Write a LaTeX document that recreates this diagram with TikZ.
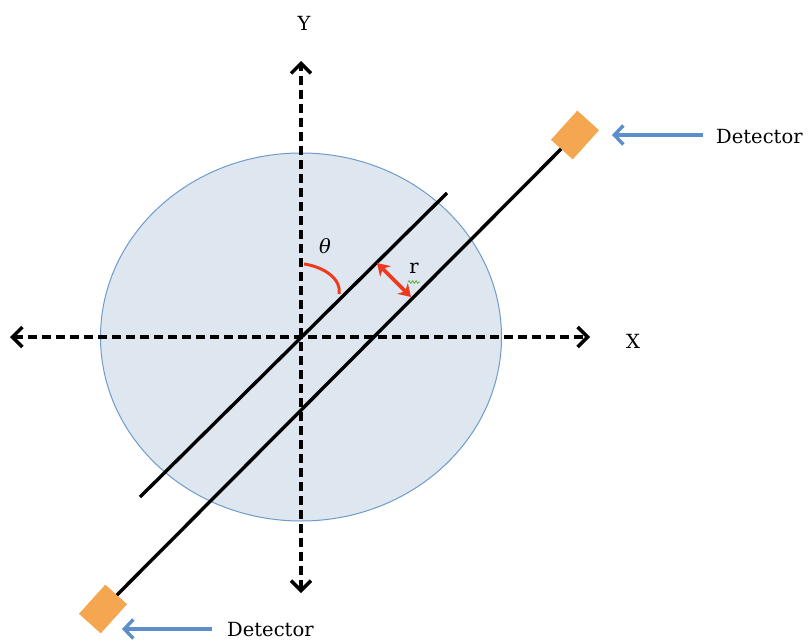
\documentclass[tikz,border=0pt]{standalone}
\usepackage{fontspec}
\setmainfont{DejaVu Serif}
\usetikzlibrary{arrows.meta,shapes.geometric,decorations.pathmorphing}
\definecolor{discfill}{HTML}{DEE6F0}
\definecolor{discedge}{HTML}{6F9BCB}
\definecolor{detorange}{HTML}{F5A650}
\definecolor{ptrblue}{HTML}{5B8ECB}
\definecolor{angred}{HTML}{EE3A1F}
\definecolor{spellgreen}{HTML}{5BAF3B}
\begin{document}
\begin{tikzpicture}[x=1pt,y=-1pt,
  lbl/.style={font=\fontsize{19.5}{23}\selectfont, inner sep=0pt},
  axisline/.style={line width=3.4pt, dash pattern=on 9pt off 5pt,
    {Straight Barb[length=10pt,width=20pt,line width=3.4pt]}-{Straight Barb[length=10pt,width=20pt,line width=3.4pt]}},
  rayline/.style={line width=3.4pt, black},
  detbox/.style={draw=none, fill=detorange, rectangle, minimum width=39pt, minimum height=29pt, inner sep=0pt, rotate=48},
  pointer/.style={ptrblue, line width=3.4pt, -{Straight Barb[length=9pt,width=19pt,line width=3.4pt]}},
  redarc/.style={angred, line width=3pt},
  rarrow/.style={angred, line width=3.6pt, {Stealth[length=12pt,width=15pt]}-{Stealth[length=12pt,width=15pt]}}
]
\useasboundingbox (0,0) rectangle (809,642);

% disc
\node[ellipse, draw=discedge, fill=discfill, line width=1pt,
      minimum width=401pt, minimum height=368pt, inner sep=0pt] (disc) at (301,337) {};

% axes
\coordinate (O) at (301,337);
\coordinate (xl) at (10,337);
\coordinate (xr) at (590,337);
\coordinate (yt) at (301,61);
\coordinate (yb) at (301,593);
\draw[axisline] (xl) -- (xr);
\draw[axisline] (yb) -- (yt);
\node[lbl] (xlab) at (633,341) {X};
\node[lbl] (ylab) at (304,23) {Y};

% line through origin
\coordinate (a1) at (140,497);
\coordinate (a2) at (447,193);
\draw[rayline] (a1) -- (a2);

% detectors and line between them
\node[detbox] (dtop) at (575,135) {};
\node[detbox] (dbot) at (103,609) {};
\draw[rayline] (dbot.center) -- (dtop.center);
\node[detbox] at (575,135) {};
\node[detbox] at (103,609) {};

% pointers and labels
\node[lbl, anchor=west] (ttop) at (716,137) {Detector};
\node[lbl, anchor=west] (tbot) at (227,630) {Detector};
\coordinate (ptail) at (703,135);
\coordinate (ptop) at (612,135);
\coordinate (btail) at (212,629);
\coordinate (pbot) at (122,629);
\draw[pointer] (ptail) -- (ptop);
\draw[pointer] (btail) -- (pbot);

% theta arc
\coordinate (th1) at (304,264);
\coordinate (th2) at (339,294);
\draw[redarc] (th1) .. controls (325,267) and (342,280) .. (th2);
\node[lbl] (theta) at (325,246) {\itshape θ};

% r arrow
\coordinate (r1) at (377,263);
\coordinate (r2) at (411,297);
\draw[rarrow] (r1) -- (r2);
\node[lbl] (rlab) at (414,268) {r};
\coordinate (sq1) at (408,282);
\coordinate (sq2) at (420,282);
\draw[spellgreen, line width=0.8pt, decorate, decoration={snake, amplitude=1.3pt, segment length=3.5pt}] (sq1) -- (sq2);
\end{tikzpicture}
\end{document}
